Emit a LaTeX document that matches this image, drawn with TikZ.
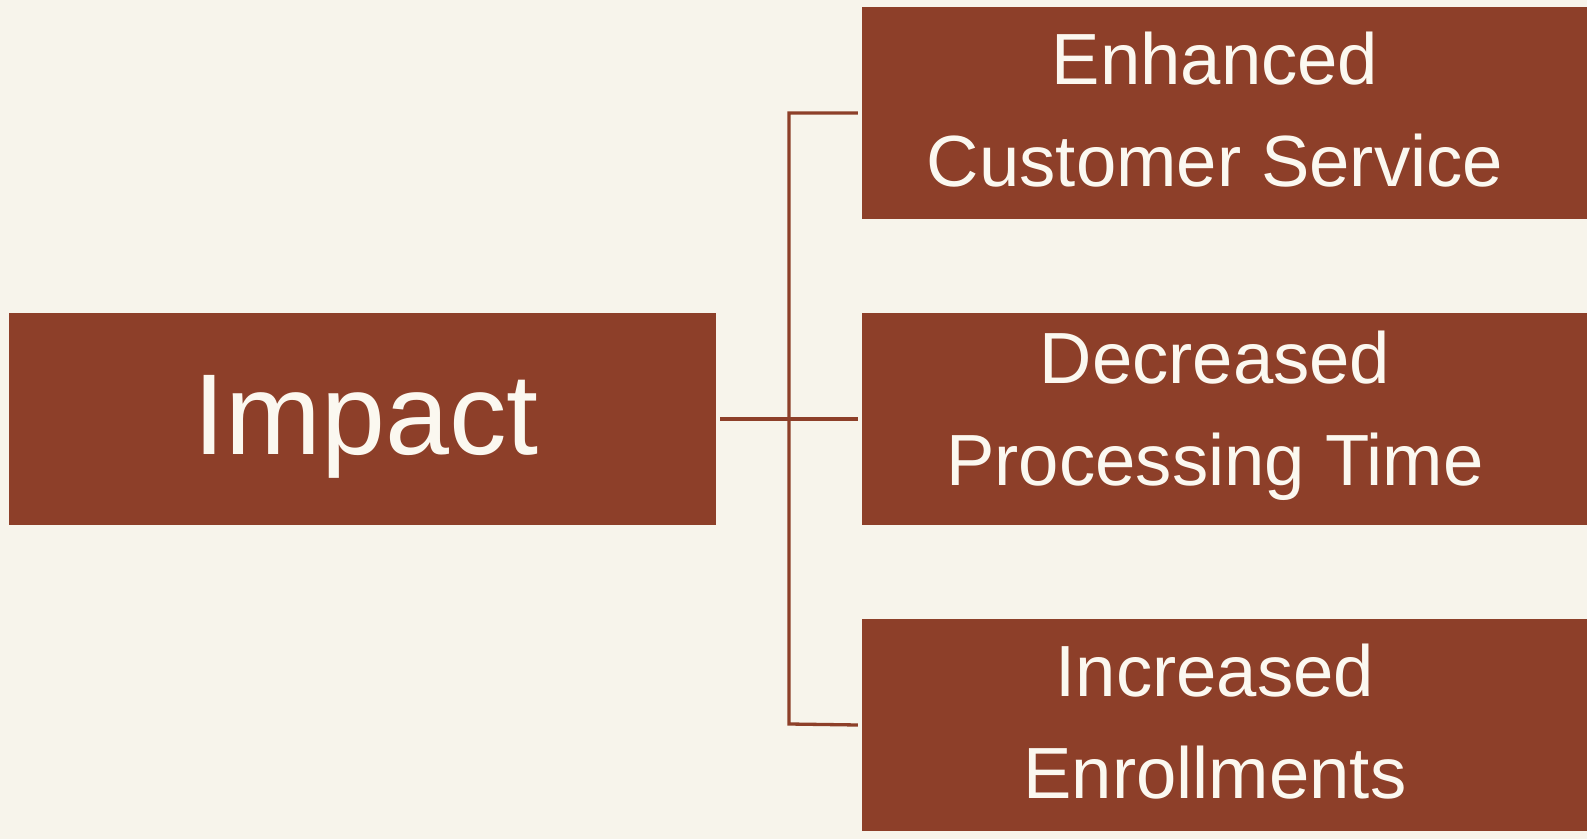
\documentclass[tikz,border=0pt]{standalone}
\usepackage{fontspec}
\setmainfont{Liberation Sans}
\definecolor{boxfill}{HTML}{8D3F29}
\definecolor{bgc}{HTML}{F7F4EB}
\definecolor{txt}{HTML}{FBF8F0}
\tikzset{
  box/.style={fill=boxfill, draw=none, inner sep=0pt, minimum height=212pt},
  bigtext/.style={text=txt, font=\fontsize{115}{138}\selectfont, inner sep=0pt},
  smalltext/.style={text=txt, font=\fontsize{72.5}{102}\selectfont, align=center, inner sep=0pt},
  conn/.style={draw=boxfill, line width=3.3pt}
}
\begin{document}
\begin{tikzpicture}[x=1pt,y=1pt]
\fill[bgc] (0,0) rectangle (1587,839);
\useasboundingbox (0,0) rectangle (1587,839);
\node[box, minimum width=707pt] (impact) at (362.5,420) {};
\node[bigtext] (timpact) at (366,412) {Impact};
\node[box, minimum width=740pt] (b1) at (1232,726) {};
\node[box, minimum width=740pt] (b2) at (1232,420) {};
\node[box, minimum width=740pt] (b3) at (1232,114) {};
\node[smalltext] (t1) at (1215,729) {Enhanced\\Customer Service};
\node[smalltext] (t2) at (1215,423) {Decreased\\Processing Time};
\node[smalltext] (t3) at (1215,117) {Increased\\Enrollments};
\coordinate (jtop) at (789,726);
\coordinate (jbot) at (789,115);
\draw[conn] ([xshift=-4pt]b1.west) -- (jtop) -- (jbot) -- ([xshift=-4pt]b3.west);
\draw[conn] ([xshift=4pt]impact.east) -- ([xshift=-4pt]b2.west);
\end{tikzpicture}
\end{document}
